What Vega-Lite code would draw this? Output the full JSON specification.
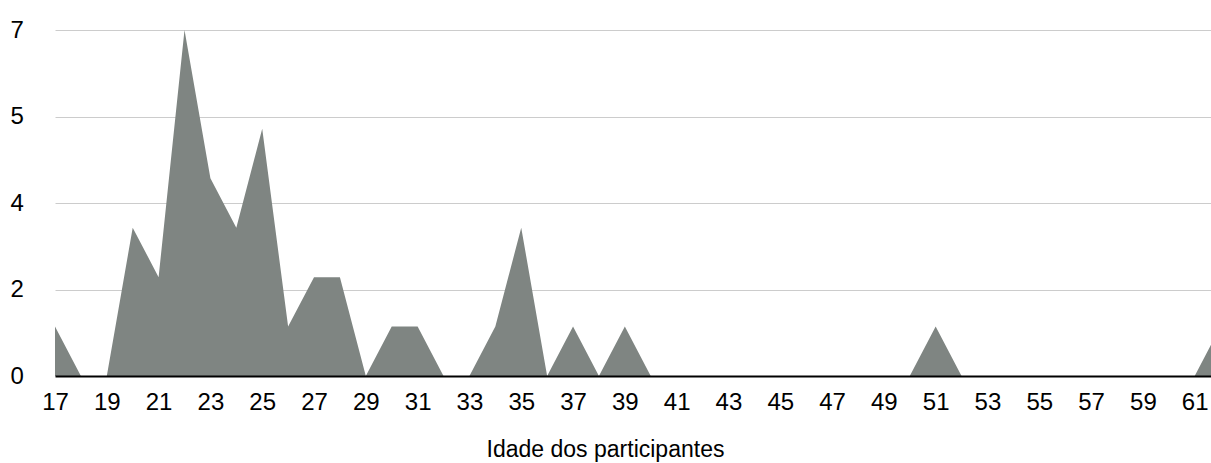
{
  "$schema": "https://vega.github.io/schema/vega-lite/v6.json",
  "width": 1156,
  "height": 346,
  "autosize": {"type": "none"},
  "padding": {"left": 55, "top": 30, "right": 0, "bottom": 87},
  "background": "white",
  "config": {
    "view": {"stroke": null},
    "font": "Liberation Sans"
  },
  "data": {
    "values": [
      {"idade": 17, "n": 1}, {"idade": 18, "n": 0}, {"idade": 19, "n": 0}, {"idade": 20, "n": 3},
      {"idade": 21, "n": 2}, {"idade": 22, "n": 7}, {"idade": 23, "n": 4}, {"idade": 24, "n": 3},
      {"idade": 25, "n": 5}, {"idade": 26, "n": 1}, {"idade": 27, "n": 2}, {"idade": 28, "n": 2},
      {"idade": 29, "n": 0}, {"idade": 30, "n": 1}, {"idade": 31, "n": 1}, {"idade": 32, "n": 0},
      {"idade": 33, "n": 0}, {"idade": 34, "n": 1}, {"idade": 35, "n": 3}, {"idade": 36, "n": 0},
      {"idade": 37, "n": 1}, {"idade": 38, "n": 0}, {"idade": 39, "n": 1}, {"idade": 40, "n": 0},
      {"idade": 41, "n": 0}, {"idade": 42, "n": 0}, {"idade": 43, "n": 0}, {"idade": 44, "n": 0},
      {"idade": 45, "n": 0}, {"idade": 46, "n": 0}, {"idade": 47, "n": 0}, {"idade": 48, "n": 0},
      {"idade": 49, "n": 0}, {"idade": 50, "n": 0}, {"idade": 51, "n": 1}, {"idade": 52, "n": 0},
      {"idade": 53, "n": 0}, {"idade": 54, "n": 0}, {"idade": 55, "n": 0}, {"idade": 56, "n": 0},
      {"idade": 57, "n": 0}, {"idade": 58, "n": 0}, {"idade": 59, "n": 0}, {"idade": 60, "n": 0},
      {"idade": 61, "n": 0}, {"idade": 62, "n": 1}
    ]
  },
  "mark": {"type": "area", "color": "#7f8582", "clip": true, "opacity": 1},
  "encoding": {
    "x": {
      "field": "idade",
      "type": "quantitative",
      "scale": {"domain": [17, 61.63], "nice": false, "zero": false},
      "axis": {
        "title": "Idade dos participantes",
        "values": [17,19,21,23,25,27,29,31,33,35,37,39,41,43,45,47,49,51,53,55,57,59,61],
        "format": "d",
        "grid": false,
        "ticks": false,
        "domainColor": "#000000",
        "domainWidth": 2,
        "labelFontSize": 24,
        "labelColor": "#000000",
        "labelPadding": 14,
        "labelFlush": false,
        "labelOverlap": false,
        "titleFontSize": 23,
        "titleFontWeight": "normal",
        "titleColor": "#000000",
        "titleX": 550,
        "titleAnchor": "middle",
        "titleAlign": "center",
        "titlePadding": 24,
        "zindex": 1
      }
    },
    "y": {
      "field": "n",
      "type": "quantitative",
      "scale": {"domain": [0, 7], "nice": false},
      "axis": {
        "title": null,
        "values": [0, 1.75, 3.5, 5.25, 7],
        "format": ".0f",
        "domain": false,
        "ticks": false,
        "grid": true,
        "gridColor": "#cccccc",
        "gridWidth": 1,
        "labelFontSize": 24,
        "labelColor": "#000000",
        "labelAlign": "left",
        "labelPadding": 45,
        "labelFlush": false,
        "labelOverlap": false
      }
    }
  }
}
